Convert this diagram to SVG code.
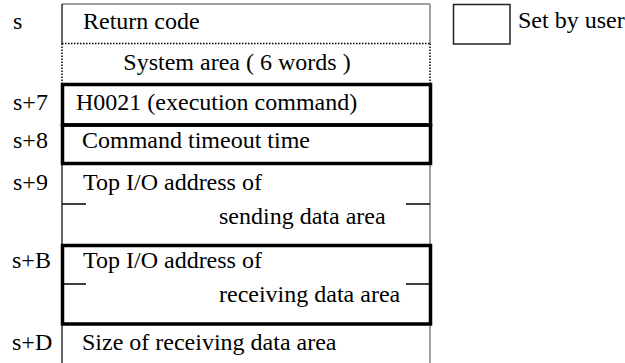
<svg xmlns="http://www.w3.org/2000/svg" width="625" height="363" viewBox="0 0 625 363">
<style>
text{font-family:"Liberation Serif","Times New Roman",serif;font-size:24px;fill:#000}
.thin{stroke:#000;stroke-width:1.2;fill:none}
.gray{stroke:#808080;stroke-width:1.5;fill:none}
.dot{stroke:#000;stroke-width:1.5;stroke-dasharray:1.5 1.5;fill:none}
.thick{stroke:#000;stroke-width:3.5;fill:none}
.tick{stroke:#000;stroke-width:1.5;fill:none}
</style>
<rect width="625" height="363" fill="#fff"/>
<g id="frame">
<line class="gray" x1="62" y1="4" x2="430" y2="4"/>
<line class="thin" x1="62" y1="4" x2="62" y2="43.5"/>
<line class="gray" x1="430" y1="4" x2="430" y2="43.5"/>
<line class="dot" x1="62" y1="43.5" x2="430" y2="43.5"/>
<line class="dot" x1="62" y1="43.5" x2="62" y2="84"/>
<line class="dot" x1="430" y1="43.5" x2="430" y2="84"/>
<line class="thin" x1="62" y1="163" x2="62" y2="245"/>
<line class="gray" x1="430" y1="163" x2="430" y2="245"/>
<line class="thin" x1="62" y1="324" x2="62" y2="363"/>
<line class="gray" x1="430" y1="324" x2="430" y2="363"/>
</g>
<g id="return-code">
<text x="13" y="29">s</text>
<text x="83" y="29">Return code</text>
</g>
<g id="system-area">
<text x="237" y="70" text-anchor="middle">System area ( 6 words )</text>
</g>
<g id="exec-command">
<rect class="thick" x="62.5" y="84.5" width="368" height="40.5"/>
<text x="13" y="110">s+7</text>
<text x="76" y="110">H0021 (execution command)</text>
</g>
<g id="timeout">
<rect class="thick" x="62.5" y="125" width="368" height="38.5"/>
<text x="13" y="148">s+8</text>
<text x="82" y="148">Command timeout time</text>
</g>
<g id="sending">
<text x="13" y="190">s+9</text>
<text x="83" y="190">Top I/O address of</text>
<text x="219" y="224">sending data area</text>
<line class="tick" x1="62" y1="204" x2="86" y2="204"/>
<line class="tick" x1="406" y1="204" x2="430" y2="204"/>
</g>
<g id="receiving">
<rect class="thick" x="62.5" y="245.5" width="368" height="78.5"/>
<text x="12" y="268">s+B</text>
<text x="83" y="268">Top I/O address of</text>
<text x="219" y="302">receiving data area</text>
<line class="tick" x1="62" y1="284" x2="86" y2="284"/>
<line class="tick" x1="406" y1="284" x2="430" y2="284"/>
</g>
<g id="size">
<text x="12" y="350">s+D</text>
<text x="82" y="350">Size of receiving data area</text>
</g>
<g id="legend">
<rect x="453.5" y="4.5" width="56.5" height="39.5" fill="none" stroke="#222" stroke-width="1.5"/>
<text x="518" y="28">Set by user</text>
</g>
</svg>
